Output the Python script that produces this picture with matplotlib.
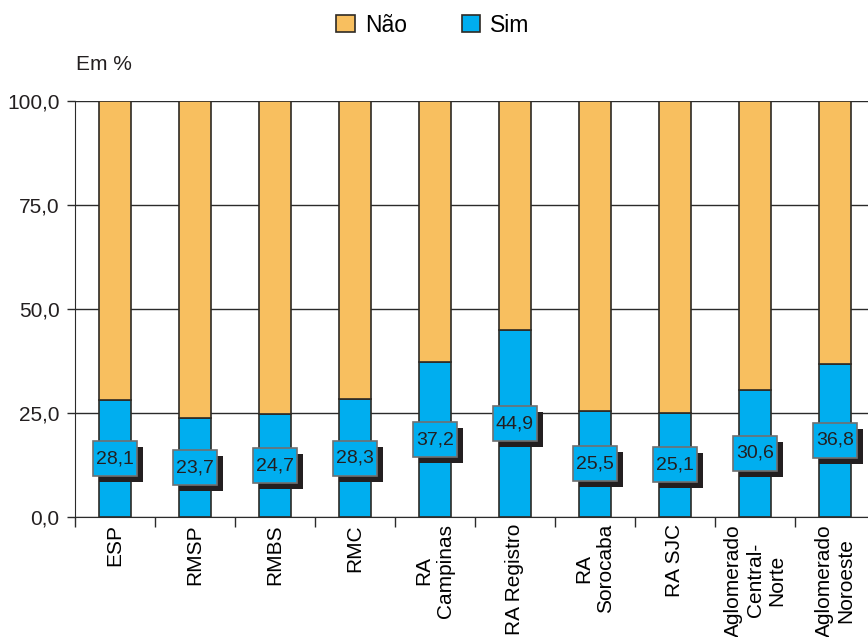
import numpy as np
import matplotlib
matplotlib.use("Agg")
import matplotlib.pyplot as plt
from matplotlib.patches import Rectangle
from matplotlib.transforms import offset_copy

plt.rcParams['font.family'] = ['Liberation Sans', 'DejaVu Sans']

# Regions and share of answers (percent)
regioes = ['ESP', 'RMSP', 'RMBS', 'RMC', 'RA\nCampinas', 'RA Registro',
           'RA\nSorocaba', 'RA SJC', 'Aglomerado\nCentral-\nNorte',
           'Aglomerado\nNoroeste']
sim = [28.1, 23.7, 24.7, 28.3, 37.2, 44.9, 25.5, 25.1, 30.6, 36.8]
nao = [round(100 - v, 1) for v in sim]

cor_nao = '#F8BF5F'
cor_sim = '#00AEEF'
cor_borda = '#2e2a25'

fig = plt.figure(figsize=(8.68, 6.37), dpi=100)
ax = fig.add_axes([75 / 868, 120 / 637, 800 / 868, 416 / 637])

x = np.arange(len(regioes))
largura = 0.41
ax.bar(x, sim, width=largura, color=cor_sim, edgecolor=cor_borda,
       linewidth=1.2, label='Sim', zorder=2)
ax.bar(x, nao, width=largura, bottom=sim, color=cor_nao,
       edgecolor=cor_borda, linewidth=1.2, label='Não', zorder=2)

# value boxes with a drop shadow, centred on the blue part of each bar
larg_caixa, alt_caixa = 0.54, 8.4
sombra = offset_copy(ax.transData, fig=fig, x=6, y=-6, units='dots')
for xi, v in zip(x, sim):
    y0 = v / 2 - alt_caixa / 2
    ax.add_patch(Rectangle((xi - larg_caixa / 2, y0), larg_caixa, alt_caixa,
                           transform=sombra, facecolor='#231F20',
                           edgecolor='none', zorder=3, clip_on=False))
    ax.add_patch(Rectangle((xi - larg_caixa / 2, y0), larg_caixa, alt_caixa,
                           facecolor=cor_sim, edgecolor='#707070',
                           linewidth=1.2, zorder=4, clip_on=False))
    ax.text(xi, v / 2, f'{v:.1f}'.replace('.', ','), ha='center',
            va='center', fontsize=14, color='#231F20', zorder=5)

ax.set_xlim(-0.5, len(regioes) - 0.5)
ax.set_ylim(0, 100)
ax.set_yticks([0, 25, 50, 75, 100])
ax.set_yticklabels([f'{t:.1f}'.replace('.', ',') for t in [0, 25, 50, 75, 100]],
                   fontsize=15)
ax.yaxis.grid(True, color='#2b2b2b', linewidth=1.0)
ax.set_axisbelow(True)

# ticks between categories, names under each bar
ax.set_xticks(np.arange(len(regioes) + 1) - 0.5)
ax.set_xticklabels([])
ax.set_xticks(x, minor=True)
ax.set_xticklabels(regioes, minor=True, rotation=90, fontsize=15,
                   ha='center', va='top', multialignment='center')
ax.tick_params(axis='x', which='major', length=7, width=1, color='#2b2b2b',
               direction='out')
ax.tick_params(axis='x', which='minor', length=0, pad=5)
ax.tick_params(axis='y', length=6, width=1, color='#2b2b2b', pad=5,
               labelcolor='#231F20')

for lado in ['top', 'right']:
    ax.spines[lado].set_visible(False)
ax.spines['left'].set_color('#2b2b2b')
ax.spines['bottom'].set_color('#2b2b2b')

h, l = ax.get_legend_handles_labels()
fig.legend(h[::-1], l[::-1], loc='center', bbox_to_anchor=(433 / 868, 1 - 25 / 637),
           ncol=2, frameon=False, fontsize=16.5, handlelength=0.8,
           handleheight=0.8, handletextpad=0.45, columnspacing=2.4)

fig.text(76 / 868, 1 - 65 / 637, 'Em %', ha='left', va='center', fontsize=15,
         color='#231F20')

fig.savefig('out.png', dpi=100)
